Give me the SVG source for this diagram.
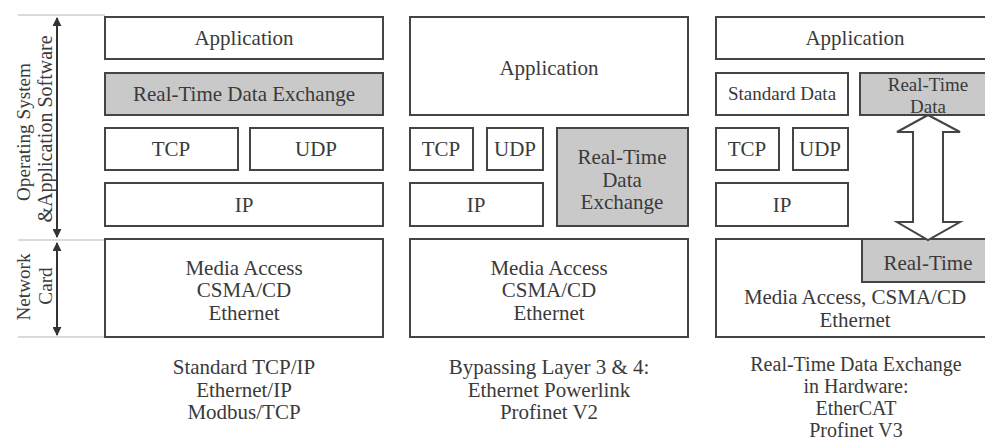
<svg xmlns="http://www.w3.org/2000/svg" width="985" height="443" viewBox="0 0 985 443">
  <style>
    text { font-family: "Liberation Serif", "Times New Roman", serif; font-size: 21px; fill: #3a3a3a; text-anchor: middle; }
    .sm { font-size: 19px; }
    .cap { font-size: 20px; }
    .side1 { font-size: 19.2px; }
    .side2 { font-size: 20px; }
    .box { fill: #ffffff; stroke: #444444; stroke-width: 2; }
    .rt { fill: #c9c9c9; stroke: #444444; stroke-width: 2; }
    .guide { stroke: #b5b5b5; stroke-width: 1; fill: none; }
    .dim { stroke: #333333; stroke-width: 2; fill: none; }
  </style>
  <defs>
    <marker id="tip" viewBox="0 0 10 10" refX="9" refY="5" markerWidth="4.5" markerHeight="4.5" orient="auto-start-reverse">
      <path d="M0,0 L10,5 L0,10 z" fill="#333333"/>
    </marker>
  </defs>
  <rect width="985" height="443" fill="#ffffff"/>

  <!-- left-hand scale: software vs. network card -->
  <g id="scale">
    <line class="guide" x1="18" y1="15" x2="105" y2="15"/>
    <line class="guide" x1="18" y1="240" x2="105" y2="240"/>
    <line class="guide" x1="18" y1="337" x2="105" y2="337"/>
    <line class="dim" x1="57" y1="18" x2="57" y2="237" marker-start="url(#tip)" marker-end="url(#tip)"/>
    <line class="dim" x1="57" y1="243" x2="57" y2="335" marker-start="url(#tip)" marker-end="url(#tip)"/>
    <text class="side1" transform="translate(30,132) rotate(-90)">Operating System</text>
    <text class="side2" transform="translate(52,129) rotate(-90)">&amp;Application Software</text>
    <text class="side1" transform="translate(30,287) rotate(-90)">Network</text>
    <text class="side1" transform="translate(52,286) rotate(-90)">Card</text>
  </g>

  <!-- Column 1: standard TCP/IP stack -->
  <g id="c1-app"><rect class="box" x="105" y="17" width="278" height="42"/><text x="244" y="45">Application</text></g>
  <g id="c1-rtde"><rect class="rt" x="105" y="73" width="278" height="42"/><text x="244" y="101">Real-Time Data Exchange</text></g>
  <g id="c1-tcp"><rect class="box" x="105" y="128" width="133" height="42"/><text x="171" y="156">TCP</text></g>
  <g id="c1-udp"><rect class="box" x="250" y="128" width="133" height="42"/><text x="316" y="156">UDP</text></g>
  <g id="c1-ip"><rect class="box" x="105" y="183" width="278" height="43"/><text x="244" y="212">IP</text></g>
  <g id="c1-mac"><rect class="box" x="105" y="239" width="278" height="98"/>
    <text x="244" y="275">Media Access</text><text x="244" y="297">CSMA/CD</text><text x="244" y="320">Ethernet</text></g>
  <g id="c1-caption"><text x="244" y="374">Standard TCP/IP</text><text x="244" y="397">Ethernet/IP</text><text x="244" y="419">Modbus/TCP</text></g>

  <!-- Column 2: bypassing layers 3 and 4 -->
  <g id="c2-app"><rect class="box" x="410" y="17" width="278" height="98"/><text x="549" y="75">Application</text></g>
  <g id="c2-tcp"><rect class="box" x="410" y="128" width="63" height="42"/><text x="441" y="156">TCP</text></g>
  <g id="c2-udp"><rect class="box" x="487" y="128" width="56" height="42"/><text x="515" y="156">UDP</text></g>
  <g id="c2-ip"><rect class="box" x="410" y="183" width="133" height="43"/><text x="476" y="212">IP</text></g>
  <g id="c2-rtde"><rect class="rt" x="557" y="128" width="131" height="98"/>
    <text x="622" y="164">Real-Time</text><text x="622" y="187">Data</text><text x="622" y="209">Exchange</text></g>
  <g id="c2-mac"><rect class="box" x="410" y="239" width="278" height="98"/>
    <text x="549" y="275">Media Access</text><text x="549" y="297">CSMA/CD</text><text x="549" y="320">Ethernet</text></g>
  <g id="c2-caption"><text x="549" y="374">Bypassing Layer 3 &amp; 4:</text><text x="549" y="397">Ethernet Powerlink</text><text x="549" y="419">Profinet V2</text></g>

  <!-- Column 3: real-time exchange in hardware -->
  <g id="c3-app"><rect class="box" x="716" y="17" width="278" height="42"/><text x="855" y="45">Application</text></g>
  <g id="c3-std"><rect class="box" x="716" y="73" width="132" height="42"/><text class="sm" x="782" y="100">Standard Data</text></g>
  <g id="c3-rtd"><rect class="rt" x="860" y="73" width="134" height="42"/>
    <text class="sm" x="928" y="91">Real-Time</text><text class="sm" x="928" y="113">Data</text></g>
  <g id="c3-tcp"><rect class="box" x="716" y="128" width="63" height="42"/><text x="747" y="156">TCP</text></g>
  <g id="c3-udp"><rect class="box" x="793" y="128" width="55" height="42"/><text x="820" y="156">UDP</text></g>
  <g id="c3-ip"><rect class="box" x="716" y="183" width="132" height="43"/><text x="782" y="212">IP</text></g>
  <g id="c3-mac"><rect class="box" x="716" y="239" width="278" height="98"/>
    <text x="855" y="304">Media Access, CSMA/CD</text><text x="855" y="327">Ethernet</text></g>
  <g id="c3-rt"><rect class="rt" x="862" y="239" width="132" height="43"/><text x="928" y="270">Real-Time</text></g>
  <g id="c3-caption"><text class="cap" x="856" y="371">Real-Time Data Exchange</text><text class="cap" x="856" y="393">in Hardware:</text>
    <text class="cap" x="856" y="415">EtherCAT</text><text class="cap" x="856" y="437">Profinet V3</text></g>

  <!-- connectors -->
  <g id="connectors">
    <path d="M928,115 L960,132 L943,132 L943,222 L960,222 L928,240 L897,222 L913,222 L913,132 L897,132 Z" fill="#ffffff" stroke="#444444" stroke-width="2" stroke-linejoin="miter"/>
  </g>
</svg>
